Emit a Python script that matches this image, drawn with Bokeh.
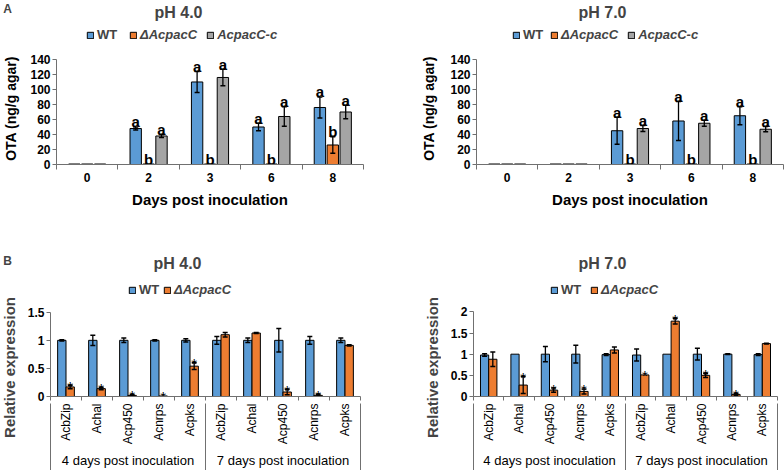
import math
from bokeh.plotting import figure
from bokeh.models import Range1d, FixedTicker, LinearAxis, Legend, LegendItem, Label
from bokeh.layouts import column, row
from bokeh.embed import file_html
from bokeh.resources import INLINE
from bokeh.core.properties import value

FONT = "Liberation Sans"
BLUE = "#5B9BD5"
ORANGE = "#ED7D31"
GREY = "#A5A5A5"
AX = "#707070"
NAN = float("nan")

# ---------------- Panel A data ----------------
days = ["0", "2", "3", "6", "8"]
series_names = ["WT", "\u0394AcpacC", "AcpacC-c"]

ph4_wt = [0, 48, 110, 50, 76]
ph4_wt_err = [0, 2, 14, 5, 14]
ph4_mut = [0, 0, 0, 0, 26]
ph4_mut_err = [0, 0, 0, 0, 11]
ph4_comp = [0, 38, 116, 64, 70]
ph4_comp_err = [0, 2, 11, 13, 9]
ph4_let_wt = ["", "a", "a", "a", "a"]
ph4_let_mut = ["", "b", "b", "b", "b"]
ph4_let_comp = ["", "a", "a", "a", "a"]

ph7_wt = [0, 0, 45, 58, 65]
ph7_wt_err = [0, 0, 18, 26, 12]
ph7_mut = [0, 0, 0, 0, 0]
ph7_mut_err = [0, 0, 0, 0, 0]
ph7_comp = [0, 0, 48, 55, 47]
ph7_comp_err = [0, 0, 4, 4, 3.5]
ph7_let_wt = ["", "", "a", "a", "a"]
ph7_let_mut = ["", "", "b", "b", "b"]
ph7_let_comp = ["", "", "a", "a", "a"]

ota_ticks = [0, 20, 40, 60, 80, 100, 120, 140]

# ---------------- Panel B data ----------------
genes = ["AcbZip", "Achal", "Acp450", "Acnrps", "Acpks",
         "AcbZip", "Achal", "Acp450", "Acnrps", "Acpks"]
groups = ["4 days post inoculation", "7 days post inoculation"]
group_size = 5

b4_wt = [1.0, 1.0, 1.0, 1.0, 1.0, 1.0, 1.0, 1.0, 1.0, 1.0]
b4_wt_err = [0.01, 0.09, 0.04, 0.01, 0.03, 0.07, 0.04, 0.21, 0.07, 0.04]
b4_mut = [0.17, 0.14, 0.02, 0.01, 0.54, 1.10, 1.13, 0.08, 0.02, 0.91]
b4_mut_err = [0.03, 0.02, 0.01, 0.0, 0.06, 0.04, 0.01, 0.05, 0.02, 0.01]
b4_star = [1, 1, 1, 1, 1, 0, 0, 1, 1, 0]
b4_ticks = [0, 0.5, 1, 1.5]
b4_tick_labels = ["0", "0.5", "1", "1.5"]

b7_wt = [0.98, 1.0, 1.0, 1.0, 0.99, 0.98, 1.0, 1.0, 1.0, 0.99]
b7_wt_err = [0.03, 0.0, 0.18, 0.21, 0.02, 0.14, 0.0, 0.14, 0.01, 0.02]
b7_mut = [0.88, 0.27, 0.15, 0.12, 1.10, 0.51, 1.78, 0.50, 0.05, 1.25]
b7_mut_err = [0.17, 0.20, 0.05, 0.06, 0.07, 0.0, 0.07, 0.05, 0.02, 0.01]
b7_star = [0, 1, 1, 1, 0, 1, 1, 1, 1, 0]
b7_ticks = [0, 0.5, 1, 1.5, 2]
b7_tick_labels = ["0", "0.5", "1", "1.5", "2"]


def style_common(p):
    p.xgrid.visible = False
    p.ygrid.visible = False
    p.outline_line_color = None
    for ax in p.xaxis + p.yaxis:
        ax.axis_line_color = AX
        ax.major_tick_line_color = AX
        ax.minor_tick_line_color = AX
        ax.major_label_text_font = FONT
        ax.major_label_text_font_style = "bold"
        ax.major_label_text_font_size = "12px"
        ax.major_label_text_color = "black"
        ax.axis_label_text_font = FONT
        ax.axis_label_text_font_style = "bold"
        ax.axis_label_text_color = "black"


def blank(width, height):
    h = figure(width=width, height=height, x_range=Range1d(0, width), y_range=Range1d(height, 0),
               output_backend="svg", toolbar_location=None, min_border=0,
               x_axis_type=None, y_axis_type=None)
    h.outline_line_color = None
    return h


def header(width, height, title, title_x, title_y, legend_specs, tag=None, tag_xy=None):
    h = blank(width, height)
    h.add_layout(Label(x=title_x, y=title_y, text=title, text_align="center",
                       text_baseline="middle", text_font=FONT, text_font_style="bold",
                       text_font_size="16px"))
    if tag:
        h.add_layout(Label(x=tag_xy[0], y=tag_xy[1], text=tag, text_align="center",
                           text_baseline="middle", text_font=FONT, text_font_style="bold",
                           text_font_size="12px"))
    for names, colors, lx, lyc, italic in legend_specs:
        items = []
        for nm, col in zip(names, colors):
            r = h.vbar(x=[NAN], top=[NAN], width=1, fill_color=col, line_color="black",
                       line_width=1)
            items.append(LegendItem(label=nm, renderers=[r]))
        lg = Legend(items=items, location=(lx, height - lyc - 7), orientation="horizontal",
                    border_line_color=None, background_fill_alpha=0,
                    padding=0, margin=0, spacing=9, glyph_width=8, glyph_height=8,
                    label_standoff=3, label_height=14, label_text_font=FONT,
                    label_text_font_size="13px",
                    label_text_font_style="bold italic" if italic else "bold")
        h.add_layout(lg)
    return h


def strip(width, height, text, x, y, tag=None, tag_xy=None):
    s = blank(width, height)
    s.add_layout(Label(x=x, y=y, text=text, angle=math.pi / 2, text_align="center",
                       text_baseline="middle", text_font=FONT, text_font_style="bold",
                       text_font_size="15px"))
    if tag:
        s.add_layout(Label(x=tag_xy[0], y=tag_xy[1], text=tag, text_align="center",
                           text_baseline="middle", text_font=FONT, text_font_style="bold",
                           text_font_size="12px"))
    return s


def err_bars(p, xs, vals, errs):
    ex = [x for x, e in zip(xs, errs) if e > 0]
    lo = [v - e for v, e in zip(vals, errs) if e > 0]
    hi = [v + e for v, e in zip(vals, errs) if e > 0]
    p.segment(x0=ex, y0=lo, x1=ex, y1=hi, line_color="black", line_width=1.3)
    p.scatter(x=ex + ex, y=lo + hi, marker="dash", size=5, line_color="black", line_width=1.5)


def zero_dashes(p, xs, vals, w):
    zx = [x for x, v in zip(xs, vals) if v == 0]
    p.segment(x0=[x - w / 2 for x in zx], y0=[0] * len(zx), x1=[x + w / 2 for x in zx],
              y1=[0] * len(zx), line_color="black", line_width=2)


def top_panel(data, width, ml, mr, ylab_standoff):
    p = figure(width=width, height=160, x_range=Range1d(-0.5, len(days) - 0.5),
               y_range=Range1d(0, 149.3), output_backend="svg", toolbar_location=None,
               min_border_left=ml, min_border_right=mr, min_border_top=0, min_border_bottom=48)
    style_common(p)
    xa = p.xaxis[0]
    xa.ticker = FixedTicker(ticks=list(range(len(days))),
                            minor_ticks=[i - 0.5 for i in range(len(days) + 1)])
    xa.major_label_overrides = {i: d for i, d in enumerate(days)}
    xa.major_tick_out = 0
    xa.major_tick_in = 0
    xa.minor_tick_out = 5
    xa.minor_tick_in = 0
    xa.major_label_standoff = 3
    xa.axis_label = "Days post inoculation"
    xa.axis_label_text_font_size = "15px"
    xa.axis_label_standoff = 6
    ya = p.yaxis[0]
    ya.ticker = FixedTicker(ticks=ota_ticks)
    ya.bounds = (ota_ticks[0], ota_ticks[-1])
    ya.major_tick_out = 4
    ya.major_tick_in = 0
    ya.major_label_standoff = 2
    ya.axis_label = "OTA (ng/g agar)"
    ya.axis_label_text_font_size = "14px"
    ya.axis_label_standoff = ylab_standoff

    cols = [BLUE, ORANGE, GREY]
    offs = [-0.21, 0.0, 0.21]
    bw = 0.185
    for (vals, errs, lets), col, off in zip(data, cols, offs):
        xs = [i + off for i in range(len(days))]
        p.vbar(x=xs, top=vals, width=bw, fill_color=col, line_color="black", line_width=1)
        zero_dashes(p, xs, vals, bw)
        err_bars(p, xs, vals, errs)
        lx = [x for x, l in zip(xs, lets) if l]
        ly = [v + e for v, e, l in zip(vals, errs, lets) if l]
        lt = [l for l in lets if l]
        p.text(x=lx, y=ly, text=lt, text_align="center", text_baseline="alphabetic",
               y_offset=-5, text_font=value(FONT), text_font_style="bold",
               text_font_size="15px", text_color="black")
    return p


def bottom_panel(wt, wt_err, mut, mut_err, stars, yticks, ylabels, ymax, width, ml, mr):
    n = len(genes)
    p = figure(width=width, height=165, x_range=Range1d(-0.5, n - 0.5),
               y_range=Range1d(0, ymax), output_backend="svg", toolbar_location=None,
               min_border_left=ml, min_border_right=mr, min_border_top=0, min_border_bottom=72)
    style_common(p)
    xa = p.xaxis[0]
    xa.ticker = FixedTicker(ticks=list(range(n)), minor_ticks=[i - 0.5 for i in range(n + 1)])
    xa.major_label_overrides = {i: g for i, g in enumerate(genes)}
    xa.major_label_orientation = math.pi / 2
    xa.major_label_text_font_style = "normal"
    xa.major_tick_out = 0
    xa.major_tick_in = 0
    xa.minor_tick_out = 4
    xa.minor_tick_in = 0
    xa.major_label_standoff = 3
    centers = [g * group_size + (group_size - 1) / 2 for g in range(len(groups))]
    bounds = [g * group_size - 0.5 for g in range(len(groups) + 1)]
    ax2 = LinearAxis(ticker=FixedTicker(ticks=centers, minor_ticks=bounds),
                     major_label_overrides={c: g for c, g in zip(centers, groups)},
                     axis_line_color=None, major_tick_out=0, major_tick_in=0,
                     minor_tick_in=44, minor_tick_out=24, minor_tick_line_color=AX,
                     major_label_standoff=-19, major_label_text_font=FONT,
                     major_label_text_font_size="13px", major_label_text_color="black")
    p.add_layout(ax2, "below")
    ya = p.yaxis[0]
    ya.ticker = FixedTicker(ticks=yticks)
    ya.bounds = (yticks[0], yticks[-1])
    ya.major_label_overrides = {t: s for t, s in zip(yticks, ylabels)}
    ya.major_tick_out = 4
    ya.major_tick_in = 0
    ya.major_label_standoff = 2

    bw = 0.27
    xw = [i - bw / 2 for i in range(n)]
    xm = [i + bw / 2 for i in range(n)]
    p.vbar(x=xw, top=wt, width=bw, fill_color=BLUE, line_color="black", line_width=1)
    p.vbar(x=xm, top=mut, width=bw, fill_color=ORANGE, line_color="black", line_width=1)
    err_bars(p, xw, wt, wt_err)
    err_bars(p, xm, mut, mut_err)
    sx = [x for x, s in zip(xm, stars) if s]
    sy = [v + e for v, e, s in zip(mut, mut_err, stars) if s]
    p.text(x=sx, y=sy, text=["*"] * len(sx), text_align="center", text_baseline="alphabetic",
           y_offset=1, text_font=value(FONT), text_font_size="15px", text_color="black")
    return p


# ---- top row ----
h1 = header(390, 52, "pH 4.0", 178, 12,
            [([series_names[0]], [BLUE], 86, 35, False),
             (series_names[1:], [ORANGE, GREY], 129, 35, True)], tag="A", tag_xy=(7, 8))
h2 = header(394, 52, "pH 7.0", 212, 12,
            [([series_names[0]], [BLUE], 122, 35, False),
             (series_names[1:], [ORANGE, GREY], 160, 35, True)])
p1 = top_panel([(ph4_wt, ph4_wt_err, ph4_let_wt), (ph4_mut, ph4_mut_err, ph4_let_mut),
                (ph4_comp, ph4_comp_err, ph4_let_comp)], 390, 52, 27, 8)
p2 = top_panel([(ph7_wt, ph7_wt_err, ph7_let_wt), (ph7_mut, ph7_mut_err, ph7_let_mut),
                (ph7_comp, ph7_comp_err, ph7_let_comp)], 394, 86, 1, 10)

# ---- bottom row ----
s3 = strip(22, 258, "Relative expression", 9, 155, tag="B", tag_xy=(7, 48))
h3 = header(368, 93, "pH 4.0", 155, 51,
            [(["WT"], [BLUE], 106, 78, False), ([series_names[1]], [ORANGE], 141, 78, True)])
p3 = bottom_panel(b4_wt, b4_wt_err, b4_mut, b4_mut_err, b4_star, b4_ticks, b4_tick_labels,
                  1.62, 368, 28, 30)
s4 = strip(51, 258, "Relative expression", 42, 155)
h4 = header(343, 93, "pH 7.0", 161, 51,
            [(["WT"], [BLUE], 109, 78, False), ([series_names[1]], [ORANGE], 149, 78, True)])
p4 = bottom_panel(b7_wt, b7_wt_err, b7_mut, b7_mut_err, b7_star, b7_ticks, b7_tick_labels,
                  2.15, 343, 32, 7)

layout = column(
    row(h1, h2),
    row(p1, p2),
    row(s3, column(row(h3), row(p3)), s4, column(row(h4), row(p4))),
)
open("out.html", "w").write(file_html(layout, INLINE))
